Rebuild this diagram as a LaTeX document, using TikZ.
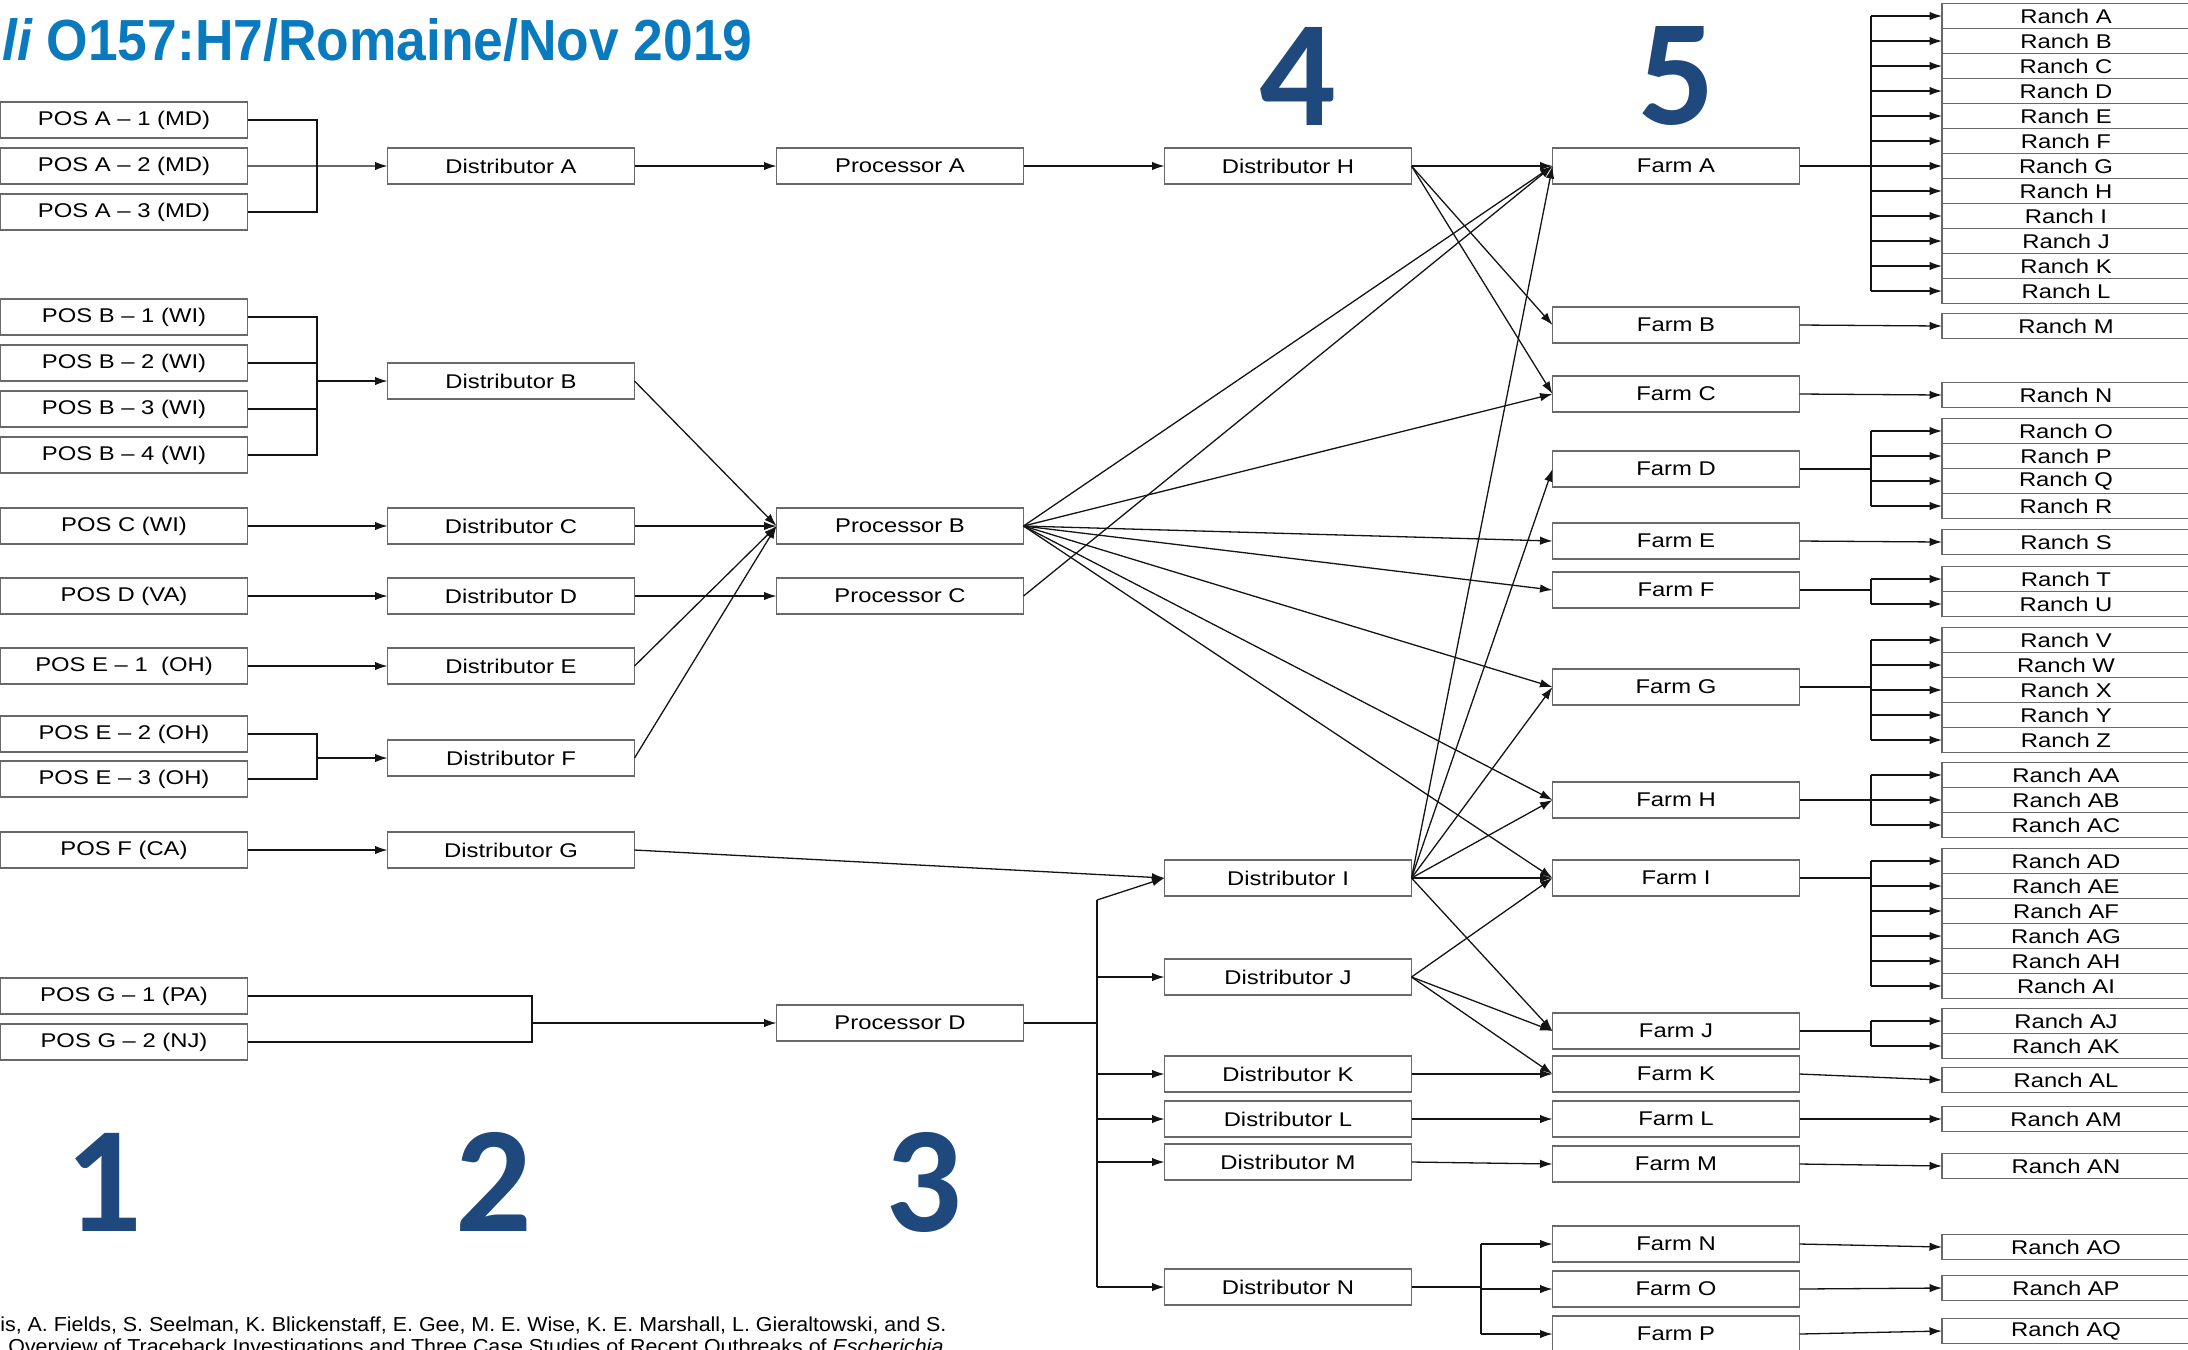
\documentclass[tikz,border=0pt]{standalone}
\usepackage{fontspec}
\usepackage{tikz}
\usepackage{xcolor}
\usetikzlibrary{arrows.meta, positioning}

\setmainfont{Liberation Sans}
\newfontfamily\boxfont[FakeStretch=1.2]{Liberation Sans}
\newfontfamily\titlefont[FakeStretch=0.92]{Liberation Sans}
\newfontfamily\citefont[FakeStretch=1.06]{Liberation Sans}
\newfontfamily\stagefont{Carlito}

\definecolor{titleblue}{RGB}{10,122,190}
\definecolor{stageblue}{RGB}{31,73,125}
\definecolor{boxgray}{RGB}{105,105,105}
\definecolor{wire}{RGB}{20,20,20}

\begin{document}
\begin{tikzpicture}[x=0.2mm, y=-0.2mm]
\tikzstyle{block} = [rectangle, draw=boxgray, line width=0.28mm, fill=white, minimum width=49.4mm, minimum height=7.2mm, inner sep=0pt, outer sep=0pt, font=\boxfont\fontsize{11.3}{13}\selectfont]
\tikzstyle{ranch} = [block, minimum width=49.6mm, minimum height=5mm]
\tikzstyle{conn} = [draw=wire, line width=0.26mm]
\tikzstyle{line} = [conn, -{Latex[length=2.5mm, width=1.7mm]}]
\tikzstyle{stage} = [text=stageblue, inner sep=0pt, font=\stagefont\bfseries\fontsize{86}{86}\selectfont]

\useasboundingbox (0,0) rectangle (2188,1349);
\clip (0,0) rectangle (2188,1349);

% title, stage numbers, source
\node[anchor=base west, inner sep=0pt, text=titleblue, font=\titlefont\bfseries\fontsize{33}{33}\selectfont] (title) at (2,60) {{\itshape li} O157:H7/Romaine/Nov 2019};
\node[stage] (s1) at (104,1182) {1};
\node[stage] (s2) at (494,1182) {2};
\node[stage] (s3) at (924,1182) {3};
\node[stage] (s4) at (1298,76) {4};
\node[stage] (s5) at (1677,76) {5};
\node[anchor=base west, inner sep=0pt, font=\citefont\fontsize{11.5}{13}\selectfont] (cite1) at (0,1331) {is, A. Fields, S. Seelman, K. Blickenstaff, E. Gee, M. E. Wise, K. E. Marshall, L. Gieraltowski, and S.};
\node[anchor=base west, inner sep=0pt, font=\citefont\fontsize{11.5}{13}\selectfont] (cite2) at (8,1353) {Overview of Traceback Investigations and Three Case Studies of Recent Outbreaks of \textit{Escherichia}};

% 1: points of service
\node[block] (posA1) at (124,120) {POS A – 1 (MD)};
\node[block, below=2mm of posA1] (posA2) {POS A – 2 (MD)};
\node[block, below=2mm of posA2] (posA3) {POS A – 3 (MD)};
\node[block] (posB1) at (124,317) {POS B – 1 (WI)};
\node[block, below=2mm of posB1] (posB2) {POS B – 2 (WI)};
\node[block, below=2mm of posB2] (posB3) {POS B – 3 (WI)};
\node[block, below=2mm of posB3] (posB4) {POS B – 4 (WI)};
\node[block] (posC) at (124,526) {POS C (WI)};
\node[block] (posD) at (124,596) {POS D (VA)};
\node[block] (posE1) at (124,666) {POS E – 1~ (OH)};
\node[block] (posE2) at (124,734) {POS E – 2 (OH)};
\node[block, below=1.8mm of posE2] (posE3) {POS E – 3 (OH)};
\node[block] (posF) at (124,850) {POS F (CA)};
\node[block] (posG1) at (124,996) {POS G – 1 (PA)};
\node[block, below=2mm of posG1] (posG2) {POS G – 2 (NJ)};

% 2: distributors
\node[block] (distA) at (511,166) {Distributor A};
\node[block] (distB) at (511,381) {Distributor B};
\node[block] (distC) at (511,526) {Distributor C};
\node[block] (distD) at (511,596) {Distributor D};
\node[block] (distE) at (511,666) {Distributor E};
\node[block] (distF) at (511,758) {Distributor F};
\node[block] (distG) at (511,850) {Distributor G};

% 3: processors
\node[block] (procA) at (900,166) {Processor A};
\node[block] (procB) at (900,526) {Processor B};
\node[block] (procC) at (900,596) {Processor C};
\node[block] (procD) at (900,1023) {Processor D};

% 4: distributors
\node[block] (distH) at (1288,166) {Distributor H};
\node[block] (distI) at (1288,878) {Distributor I};
\node[block] (distJ) at (1288,977) {Distributor J};
\node[block] (distK) at (1288,1074) {Distributor K};
\node[block] (distL) at (1288,1119) {Distributor L};
\node[block] (distM) at (1288,1162) {Distributor M};
\node[block] (distN) at (1288,1287) {Distributor N};

% 5: farms
\node[block] (farmA) at (1676,166) {Farm A};
\node[block] (farmB) at (1676,325) {Farm B};
\node[block] (farmC) at (1676,394) {Farm C};
\node[block] (farmD) at (1676,469) {Farm D};
\node[block] (farmE) at (1676,541) {Farm E};
\node[block] (farmF) at (1676,590) {Farm F};
\node[block] (farmG) at (1676,687) {Farm G};
\node[block] (farmH) at (1676,800) {Farm H};
\node[block] (farmI) at (1676,878) {Farm I};
\node[block] (farmJ) at (1676,1031) {Farm J};
\node[block] (farmK) at (1676,1074) {Farm K};
\node[block] (farmL) at (1676,1119) {Farm L};
\node[block] (farmM) at (1676,1164) {Farm M};
\node[block] (farmN) at (1676,1244) {Farm N};
\node[block] (farmO) at (1676,1289) {Farm O};
\node[block] (farmP) at (1676,1334) {Farm P};

% ranches
\node[ranch] (ranchA) at (2066,16) {Ranch A};
\foreach \pr/\nx in {A/B,B/C,C/D,D/E,E/F,F/G,G/H,H/I,I/J,J/K,K/L}
  \node[ranch, below=0pt of ranch\pr] (ranch\nx) {Ranch \nx};
\node[ranch] (ranchM) at (2066,326) {Ranch M};
\node[ranch] (ranchN) at (2066,395) {Ranch N};
\node[ranch] (ranchO) at (2066,431) {Ranch O};
\foreach \pr/\nx in {O/P,P/Q,Q/R}
  \node[ranch, below=0pt of ranch\pr] (ranch\nx) {Ranch \nx};
\node[ranch] (ranchS) at (2066,542) {Ranch S};
\node[ranch] (ranchT) at (2066,579) {Ranch T};
\node[ranch, below=0pt of ranchT] (ranchU) {Ranch U};
\node[ranch] (ranchV) at (2066,640) {Ranch V};
\foreach \pr/\nx in {V/W,W/X,X/Y,Y/Z}
  \node[ranch, below=0pt of ranch\pr] (ranch\nx) {Ranch \nx};
\node[ranch] (ranchAA) at (2066,775) {Ranch AA};
\foreach \pr/\nx in {AA/AB,AB/AC}
  \node[ranch, below=0pt of ranch\pr] (ranch\nx) {Ranch \nx};
\node[ranch] (ranchAD) at (2066,861) {Ranch AD};
\foreach \pr/\nx in {AD/AE,AE/AF,AF/AG,AG/AH,AH/AI}
  \node[ranch, below=0pt of ranch\pr] (ranch\nx) {Ranch \nx};
\node[ranch] (ranchAJ) at (2066,1021) {Ranch AJ};
\node[ranch, below=0pt of ranchAJ] (ranchAK) {Ranch AK};
\node[ranch] (ranchAL) at (2066,1080) {Ranch AL};
\node[ranch] (ranchAM) at (2066,1119) {Ranch AM};
\node[ranch] (ranchAN) at (2066,1166) {Ranch AN};
\node[ranch] (ranchAO) at (2066,1247) {Ranch AO};
\node[ranch] (ranchAP) at (2066,1288) {Ranch AP};
\node[ranch] (ranchAQ) at (2066,1331) {Ranch AQ};

% 1 -> 2
\coordinate (jA) at (317,166);
\draw[conn] (posA1.east) -| (jA) |- (posA3.east);
\draw[line] (posA2.east) -- (distA.west);
\coordinate (jB) at (317,381);
\foreach \ps in {posB1,posB2,posB3,posB4} \draw[conn] (\ps.east) -| (jB);
\draw[line] (jB) -- (distB.west);
\draw[line] (posC.east) -- (distC.west);
\draw[line] (posD.east) -- (distD.west);
\draw[line] (posE1.east) -- (distE.west);
\coordinate (jE) at (317,758);
\foreach \ps in {posE2,posE3} \draw[conn] (\ps.east) -| (jE);
\draw[line] (jE) -- (distF.west);
\draw[line] (posF.east) -- (distG.west);
\coordinate (jG) at (532,1023);
\foreach \ps in {posG1,posG2} \draw[conn] (\ps.east) -| (jG);
\draw[line] (jG) -- (procD.west);

% 2 -> 3
\draw[line] (distA.east) -- (procA.west);
\foreach \ds in {distB,distC,distE,distF} \draw[line] (\ds.east) -- (procB.west);
\draw[line] (distD.east) -- (procC.west);
\draw[line] (distG.east) -- (distI.west);

% 3 -> 4
\draw[line] (procA.east) -- (distH.west);
\coordinate (jD) at (1097,1023);
\coordinate (jDtop) at (1097,900);
\draw[conn] (procD.east) -- (jD);
\draw[conn] (jDtop) -- (jD |- distN.west);
\draw[line] (jDtop) -- (distI.west);
\foreach \ds in {distJ,distK,distL,distM,distN} \draw[line] (jD |- \ds.west) -- (\ds.west);

% 4 -> 5
\foreach \fm in {farmA,farmB,farmC} \draw[line] (distH.east) -- (\fm.west);
\foreach \fm in {farmA,farmC,farmE,farmF,farmG,farmH,farmI} \draw[line] (procB.east) -- (\fm.west);
\draw[line] (procC.east) -- (farmA.west);
\foreach \fm in {farmA,farmD,farmG,farmH,farmI,farmJ} \draw[line] (distI.east) -- (\fm.west);
\foreach \fm in {farmI,farmJ,farmK} \draw[line] (distJ.east) -- (\fm.west);
\draw[line] (distK.east) -- (farmK.west);
\draw[line] (distL.east) -- (farmL.west);
\draw[line] (distM.east) -- (farmM.west);
\coordinate (jN) at (1481,1287);
\draw[conn] (distN.east) -- (jN);
\draw[conn] (jN |- farmN.west) -- (jN |- farmP.west);
\foreach \fm in {farmN,farmO,farmP} \draw[line] (jN |- \fm.west) -- (\fm.west);

% 5 -> ranches
\coordinate (rx) at (1871,0);
\draw[conn] (farmA.east) -- (rx |- farmA.east);
\draw[conn] (rx |- ranchA.west) -- (rx |- ranchL.west);
\foreach \rn in {A,B,C,D,E,F,G,H,I,J,K,L} \draw[line] (rx |- ranch\rn.west) -- (ranch\rn.west);
\draw[line] (farmB.east) -- (ranchM.west);
\draw[line] (farmC.east) -- (ranchN.west);
\draw[conn] (farmD.east) -- (rx |- farmD.east);
\draw[conn] (rx |- ranchO.west) -- (rx |- ranchR.west);
\foreach \rn in {O,P,Q,R} \draw[line] (rx |- ranch\rn.west) -- (ranch\rn.west);
\draw[line] (farmE.east) -- (ranchS.west);
\draw[conn] (farmF.east) -- (rx |- farmF.east);
\draw[conn] (rx |- ranchT.west) -- (rx |- ranchU.west);
\foreach \rn in {T,U} \draw[line] (rx |- ranch\rn.west) -- (ranch\rn.west);
\draw[conn] (farmG.east) -- (rx |- farmG.east);
\draw[conn] (rx |- ranchV.west) -- (rx |- ranchZ.west);
\foreach \rn in {V,W,X,Y,Z} \draw[line] (rx |- ranch\rn.west) -- (ranch\rn.west);
\draw[conn] (farmH.east) -- (rx |- farmH.east);
\draw[conn] (rx |- ranchAA.west) -- (rx |- ranchAC.west);
\foreach \rn in {AA,AB,AC} \draw[line] (rx |- ranch\rn.west) -- (ranch\rn.west);
\draw[conn] (farmI.east) -- (rx |- farmI.east);
\draw[conn] (rx |- ranchAD.west) -- (rx |- ranchAI.west);
\foreach \rn in {AD,AE,AF,AG,AH,AI} \draw[line] (rx |- ranch\rn.west) -- (ranch\rn.west);
\draw[conn] (farmJ.east) -- (rx |- farmJ.east);
\draw[conn] (rx |- ranchAJ.west) -- (rx |- ranchAK.west);
\foreach \rn in {AJ,AK} \draw[line] (rx |- ranch\rn.west) -- (ranch\rn.west);
\draw[line] (farmK.east) -- (ranchAL.west);
\draw[line] (farmL.east) -- (ranchAM.west);
\draw[line] (farmM.east) -- (ranchAN.west);
\draw[line] (farmN.east) -- (ranchAO.west);
\draw[line] (farmO.east) -- (ranchAP.west);
\draw[line] (farmP.east) -- (ranchAQ.west);
\end{tikzpicture}
\end{document}
